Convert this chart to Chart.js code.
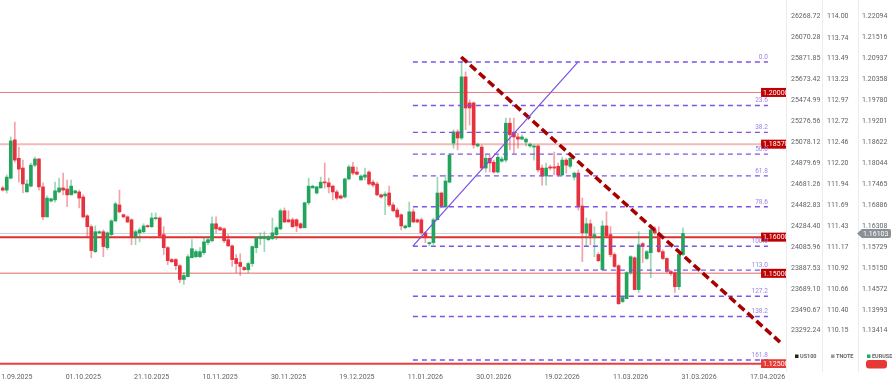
<!DOCTYPE html>
<html>
<head>
<meta charset="utf-8">
<script src="https://cdn.jsdelivr.net/npm/chart.js@4.4.1/dist/chart.umd.min.js"></script>
<style>
  html, body { margin: 0; padding: 0; background: #fff; }
</style>
</head>
<body>
<canvas id="eurusdChart" width="892" height="387" style="display:block;width:892px;height:387px"></canvas>
<script>
// EURUSD daily candles, first candle sits at index -3
const FIRST_INDEX = -3;
const opens = [
  1.1736,1.1730,1.1763,1.1869,1.1818,1.1791,1.1725,1.1741,1.1799,1.1816,
  1.1739,1.1656,1.1700,1.1703,1.1725,1.1736,1.1733,1.1717,1.1722,1.1725,
  1.1711,1.1659,1.1629,1.1560,1.1612,1.1615,1.1571,1.1607,1.1645,1.1689,
  1.1662,1.1656,1.1648,1.1601,1.1612,1.1615,1.1631,1.1629,1.1651,1.1653,
  1.1607,1.1571,1.1538,1.1538,1.1521,1.1483,1.1491,1.1543,1.1546,1.1546,
  1.1557,1.1585,1.1590,1.1637,1.1626,1.1623,1.1593,1.1576,1.1541,1.1530,
  1.1516,1.1510,1.1527,1.1571,1.1596,1.1596,1.1593,1.1596,1.1607,1.1623,
  1.1673,1.1648,1.1648,1.1648,1.1637,1.1626,1.1695,1.1736,1.1722,1.1736,
  1.1752,1.1750,1.1741,1.1725,1.1714,1.1711,1.1761,1.1794,1.1780,1.1758,
  1.1766,1.1780,1.1752,1.1747,1.1717,1.1714,1.1722,1.1689,1.1675,1.1662,
  1.1626,1.1629,1.1670,1.1648,1.1648,1.1612,1.1582,1.1585,1.1648,1.1722,
  1.1684,1.1752,1.1860,1.1891,1.1874,1.2043,1.1971,1.1971,1.1852,1.1849,
  1.1791,1.1818,1.1807,1.1780,1.1810,1.1813,1.1915,1.1888,1.1877,1.1871,
  1.1863,1.1852,1.1849,1.1852,1.1791,1.1769,1.1794,1.1794,1.1796,1.1772,
  1.1813,1.1796,1.1766,1.1777,1.1686,1.1612,1.1637,1.1601,1.1552,1.1510,
  1.1631,1.1607,1.1552,1.1521,1.1422,1.1430,1.1502,1.1543,1.1455,1.1582,
  1.1541,1.1557,1.1620,1.1609,1.1560,1.1541,1.1505,1.1502,1.1463,1.1552
];
const highs = [
  1.1741,1.1772,1.1877,1.1918,1.1849,1.1813,1.1758,1.1805,1.1821,1.1818,
  1.1750,1.1714,1.1708,1.1752,1.1763,1.1777,1.1758,1.1758,1.1730,1.1730,
  1.1717,1.1662,1.1634,1.1631,1.1618,1.1620,1.1615,1.1648,1.1697,1.1730,
  1.1664,1.1659,1.1651,1.1620,1.1626,1.1637,1.1634,1.1667,1.1667,1.1656,
  1.1629,1.1574,1.1541,1.1541,1.1524,1.1502,1.1552,1.1593,1.1565,1.1571,
  1.1598,1.1601,1.1656,1.1656,1.1629,1.1626,1.1607,1.1579,1.1552,1.1554,
  1.1519,1.1530,1.1576,1.1601,1.1612,1.1615,1.1604,1.1653,1.1629,1.1678,
  1.1681,1.1673,1.1653,1.1651,1.1640,1.1697,1.1763,1.1744,1.1741,1.1766,
  1.1805,1.1763,1.1744,1.1730,1.1717,1.1763,1.1799,1.1807,1.1794,1.1772,
  1.1791,1.1783,1.1758,1.1752,1.1719,1.1725,1.1741,1.1695,1.1681,1.1664,
  1.1634,1.1697,1.1678,1.1651,1.1653,1.1615,1.1587,1.1653,1.1766,1.1725,
  1.1772,1.1832,1.1897,1.1897,1.2085,1.2057,1.1979,1.1974,1.1860,1.1855,
  1.1827,1.1827,1.1813,1.1827,1.1821,1.1929,1.1929,1.1929,1.1888,1.1883,
  1.1874,1.1860,1.1855,1.1855,1.1799,1.1805,1.1799,1.1835,1.1805,1.1821,
  1.1818,1.1821,1.1780,1.1786,1.1708,1.1653,1.1648,1.1629,1.1557,1.1645,
  1.1670,1.1629,1.1557,1.1524,1.1436,1.1505,1.1549,1.1546,1.1615,1.1585,
  1.1563,1.1634,1.1629,1.1629,1.1565,1.1543,1.1508,1.1505,1.1565,1.1626
];
const lows = [
  1.1728,1.1722,1.1761,1.1807,1.1752,1.1722,1.1725,1.1739,1.1794,1.1730,
  1.1648,1.1656,1.1697,1.1697,1.1722,1.1717,1.1684,1.1717,1.1722,1.1681,
  1.1653,1.1601,1.1543,1.1557,1.1609,1.1546,1.1565,1.1601,1.1642,1.1667,
  1.1653,1.1640,1.1579,1.1579,1.1587,1.1612,1.1626,1.1626,1.1648,1.1601,
  1.1552,1.1524,1.1530,1.1510,1.1474,1.1469,1.1491,1.1543,1.1543,1.1543,
  1.1552,1.1579,1.1587,1.1612,1.1618,1.1585,1.1574,1.1519,1.1502,1.1494,
  1.1508,1.1502,1.1519,1.1557,1.1579,1.1560,1.1590,1.1593,1.1593,1.1620,
  1.1640,1.1642,1.1626,1.1615,1.1623,1.1626,1.1689,1.1736,1.1719,1.1736,
  1.1736,1.1722,1.1703,1.1703,1.1706,1.1708,1.1758,1.1772,1.1772,1.1758,
  1.1758,1.1744,1.1739,1.1714,1.1708,1.1662,1.1684,1.1670,1.1653,1.1620,
  1.1623,1.1626,1.1640,1.1640,1.1607,1.1585,1.1576,1.1579,1.1648,1.1681,
  1.1681,1.1750,1.1846,1.1841,1.1869,1.1897,1.1910,1.1846,1.1849,1.1786,
  1.1780,1.1780,1.1777,1.1777,1.1807,1.1807,1.1841,1.1832,1.1846,1.1869,
  1.1852,1.1849,1.1813,1.1780,1.1744,1.1744,1.1786,1.1772,1.1769,1.1769,
  1.1777,1.1791,1.1758,1.1675,1.1532,1.1576,1.1579,1.1546,1.1532,1.1510,
  1.1601,1.1546,1.1516,1.1414,1.1419,1.1430,1.1497,1.1455,1.1447,1.1530,
  1.1538,1.1488,1.1607,1.1557,1.1538,1.1502,1.1494,1.1447,1.1455,1.1549
];
const closes = [
  1.1730,1.1766,1.1866,1.1813,1.1788,1.1747,1.1747,1.1799,1.1816,1.1739,
  1.1656,1.1708,1.1706,1.1728,1.1736,1.1730,1.1717,1.1741,1.1728,1.1708,
  1.1656,1.1629,1.1563,1.1615,1.1615,1.1574,1.1612,1.1645,1.1692,1.1670,
  1.1656,1.1642,1.1601,1.1615,1.1620,1.1631,1.1629,1.1653,1.1653,1.1604,
  1.1571,1.1535,1.1532,1.1521,1.1483,1.1494,1.1546,1.1568,1.1560,1.1560,
  1.1587,1.1593,1.1637,1.1623,1.1620,1.1590,1.1576,1.1538,1.1527,1.1519,
  1.1510,1.1527,1.1574,1.1598,1.1601,1.1601,1.1601,1.1612,1.1626,1.1673,
  1.1642,1.1642,1.1629,1.1631,1.1626,1.1695,1.1741,1.1741,1.1739,1.1752,
  1.1750,1.1739,1.1725,1.1708,1.1708,1.1761,1.1794,1.1777,1.1774,1.1769,
  1.1772,1.1747,1.1744,1.1717,1.1711,1.1719,1.1689,1.1673,1.1656,1.1631,
  1.1631,1.1670,1.1642,1.1642,1.1612,1.1601,1.1585,1.1648,1.1722,1.1684,
  1.1755,1.1827,1.1891,1.1874,1.2043,1.1957,1.1957,1.1855,1.1857,1.1791,
  1.1818,1.1805,1.1780,1.1821,1.1816,1.1915,1.1883,1.1877,1.1871,1.1877,
  1.1871,1.1857,1.1852,1.1786,1.1769,1.1791,1.1791,1.1791,1.1772,1.1813,
  1.1799,1.1818,1.1777,1.1684,1.1612,1.1637,1.1604,1.1607,1.1535,1.1631,
  1.1604,1.1552,1.1519,1.1416,1.1433,1.1502,1.1546,1.1455,1.1579,1.1574,
  1.1560,1.1620,1.1612,1.1560,1.1541,1.1505,1.1499,1.1463,1.1552,1.1610
];
const lastPrice = 1.16103;

// x axis (candle index) tick labels
const dateTickIndex = [0, 17, 34, 51, 68, 85, 102, 119, 136, 153, 170, 187];
const dateLabels = ['11.09.2025', '01.10.2025', '21.10.2025', '10.11.2025', '30.11.2025', '19.12.2025',
  '11.01.2026', '30.01.2026', '19.02.2026', '11.03.2026', '31.03.2026', '17.04.2026'];

// right hand price scales
const us100Ticks = ['26268.72', '26070.28', '25871.85', '25673.42', '25474.99', '25276.56', '25078.12', '24879.69',
  '24681.26', '24482.83', '24284.40', '24085.96', '23887.53', '23689.10', '23490.67', '23292.24'];
const tnoteTicks = ['114.00', '113.74', '113.49', '113.23', '112.97', '112.72', '112.46', '112.20',
  '111.94', '111.69', '111.43', '111.17', '110.92', '110.66', '110.40', '110.15'];
const eurusdTicks = ['1.22094', '1.21516', '1.20937', '1.20358', '1.19780', '1.19201', '1.18622', '1.18044',
  '1.17465', '1.16886', '1.16308', '1.15729', '1.15150', '1.14572', '1.13993', '1.13414'];

// horizontal support / resistance levels
const levels = [1.2000, 1.1857, 1.1600, 1.1500, 1.1250];
const levelLabels = ['1.20000', '1.18570', '1.16000', '1.15000', '1.12500'];

// fibonacci retracement
const fibRatios = [0, 23.6, 38.2, 50, 61.8, 78.6, 100, 113, 127.2, 138.2, 161.8];
const fibHigh = 1.2084;
const fibLow = 1.1575;
const fibFrom = 98.9;
const fibTo = 187.1;

// drawn lines
const swingLine = [{ x: 98.9, y: 1.1575 }, { x: 139.9, y: 1.2084 }];
const trendLine = [{ x: 110.9, y: 1.2098 }, { x: 190.1, y: 1.1310 }];
const levelLineEnd = 185.4;

// layout constants
const X_MIN = -3.68, X_MAX = 191.6;
const PLOT_H = 368, TOP_TICK_PX = 16.7, BOTTOM_TICK_PX = 330.7;

const UP = '#22a45d', DOWN = '#e5323e';
const UP_WICK = 'rgba(34,164,93,0.45)', DOWN_WICK = 'rgba(229,50,62,0.45)';
const levelColors = ['#e77b7b', '#f3baba', '#e02f2f', '#ec9a9a', '#e8403c'];
const levelWidths = [1, 2, 2, 1.5, 2];
const FIB_COLOR = '#7c55e6';

Chart.defaults.font.family = "Roboto, 'Noto Sans', sans-serif";
Chart.defaults.font.size = 7;

const fibPrice = r => fibHigh - (fibHigh - fibLow) * r / 100;
const candleX = opens.map((_, k) => FIRST_INDEX + k);
const isUp = closes.map((c, k) => c >= opens[k]);

function valueAxis(labels, weight, width, pad) {
  const vals = labels.map(Number);
  const n = vals.length;
  const perPx = (vals[0] - vals[n - 1]) / (BOTTOM_TICK_PX - TOP_TICK_PX);
  return {
    type: 'linear',
    axis: 'y',
    position: 'right',
    weight: weight,
    min: vals[n - 1] - (PLOT_H - BOTTOM_TICK_PX) * perPx,
    max: vals[0] + TOP_TICK_PX * perPx,
    grid: { display: false, drawTicks: false },
    border: { display: false },
    afterBuildTicks: s => { s.ticks = vals.map(v => ({ value: v })); },
    afterFit: s => { s.width = width; s.paddingTop = 0; s.paddingBottom = 0; },
    ticks: { crossAlign: 'near', padding: pad, color: '#5f6368', callback: (v, i) => labels[i] }
  };
}

const datasets = [];

levels.forEach((lv, k) => {
  datasets.push({
    type: 'line', order: 5, xAxisID: 'x', yAxisID: 'eur',
    data: [{ x: X_MIN, y: lv }, { x: levelLineEnd, y: lv }],
    borderColor: levelColors[k], borderWidth: levelWidths[k], pointRadius: 0
  });
});

datasets.push({
  type: 'line', order: 4, xAxisID: 'x', yAxisID: 'eur',
  data: [{ x: X_MIN, y: lastPrice }, { x: X_MAX, y: lastPrice }],
  borderColor: '#cfcfcf', borderWidth: 1, pointRadius: 0
});

datasets.push({
  type: 'bar', order: 3, xAxisID: 'x', yAxisID: 'eur', grouped: false,
  data: candleX.map((x, k) => ({ x: x, y: [lows[k], highs[k]] })),
  backgroundColor: isUp.map(u => u ? UP_WICK : DOWN_WICK),
  barThickness: 1, minBarLength: 1, borderWidth: 0
});

datasets.push({
  type: 'bar', order: 2, xAxisID: 'x', yAxisID: 'eur', grouped: false,
  data: candleX.map((x, k) => ({ x: x, y: [opens[k], closes[k]] })),
  backgroundColor: isUp.map(u => u ? UP : DOWN),
  barThickness: 3, minBarLength: 1, borderWidth: 0
});

fibRatios.forEach(r => {
  datasets.push({
    type: 'line', order: 1, xAxisID: 'x', yAxisID: 'eur',
    data: [{ x: fibFrom, y: fibPrice(r) }, { x: fibTo, y: fibPrice(r) }],
    borderColor: FIB_COLOR, borderWidth: 1.4, borderDash: [5, 4], pointRadius: 0
  });
});

datasets.push({
  type: 'line', order: 0, xAxisID: 'x', yAxisID: 'eur',
  data: swingLine, borderColor: '#7a4fe2', borderWidth: 1.2, pointRadius: 0
});

datasets.push({
  type: 'line', order: 0, xAxisID: 'x', yAxisID: 'eur',
  data: trendLine, borderColor: '#a80000', borderWidth: 3.6, borderDash: [8, 4],
  borderCapStyle: 'butt', pointRadius: 0
});

// labels, price tags, legend and column separators
const overlayPlugin = {
  id: 'overlay',
  afterDraw(chart) {
    const { ctx, chartArea: area, scales } = chart;
    const { x, eur, us100, tnote } = scales;
    ctx.save();

    ctx.strokeStyle = '#ececec';
    ctx.lineWidth = 1;
    [area.right, us100.right, tnote.right].forEach(px => {
      const lx = Math.round(px) + 0.5;
      ctx.beginPath();
      ctx.moveTo(lx, 0);
      ctx.lineTo(lx, area.bottom + 4);
      ctx.stroke();
    });

    // level tags and fib labels, clipped to the plot
    ctx.save();
    ctx.beginPath();
    ctx.rect(area.left, area.top, area.right - area.left, area.bottom - area.top);
    ctx.clip();
    const tagX = x.getPixelForValue(levelLineEnd);
    ctx.font = '7px Roboto';
    ctx.textBaseline = 'middle';
    ctx.textAlign = 'left';
    levels.forEach((lv, k) => {
      const py = eur.getPixelForValue(lv);
      ctx.fillStyle = k === levels.length - 1 ? '#e53935' : '#c00000';
      ctx.fillRect(tagX, py - 4.5, 32, 9);
      ctx.fillStyle = '#fff';
      ctx.fillText(levelLabels[k], tagX + 2, py + 0.5);
    });
    ctx.font = '6.5px Roboto';
    ctx.textAlign = 'right';
    ctx.textBaseline = 'bottom';
    ctx.fillStyle = '#9a84e4';
    const fx = x.getPixelForValue(fibTo);
    fibRatios.forEach(r => {
      ctx.fillText(r.toFixed(1), fx, eur.getPixelForValue(fibPrice(r)) - 1.5);
    });
    ctx.restore();

    // current price tag
    const py = eur.getPixelForValue(lastPrice);
    ctx.fillStyle = '#8b9095';
    ctx.beginPath();
    ctx.moveTo(eur.left - 1, py);
    ctx.lineTo(eur.left + 4, py - 4.5);
    ctx.lineTo(eur.right - 3, py - 4.5);
    ctx.quadraticCurveTo(eur.right - 1, py - 4.5, eur.right - 1, py - 2.5);
    ctx.lineTo(eur.right - 1, py + 2.5);
    ctx.quadraticCurveTo(eur.right - 1, py + 4.5, eur.right - 3, py + 4.5);
    ctx.lineTo(eur.left + 4, py + 4.5);
    ctx.closePath();
    ctx.fill();
    ctx.fillStyle = '#fff';
    ctx.font = '7px Roboto';
    ctx.textAlign = 'left';
    ctx.textBaseline = 'middle';
    ctx.fillText(lastPrice.toFixed(5), eur.left + 5, py + 0.5);

    // mini legend under the price columns
    const legend = [['US100', '#222', us100], ['TNOTE', '#9a9a9a', tnote], ['EURUSD', '#1fae64', eur]];
    ctx.font = 'bold 5.5px Roboto';
    legend.forEach(([name, color, sc]) => {
      const lx = sc.left + 9;
      ctx.fillStyle = color;
      ctx.fillRect(lx, 354.5, 3.5, 3.5);
      ctx.fillStyle = '#666';
      ctx.fillText(name, lx + 5, 356.5);
    });
    ctx.fillStyle = '#e53935';
    ctx.beginPath();
    ctx.roundRect(eur.left + 8, 360, 21, 8.5, 3);
    ctx.fill();

    ctx.restore();
  }
};

new Chart(document.getElementById('eurusdChart'), {
  type: 'bar',
  data: { datasets: datasets },
  options: {
    responsive: false,
    animation: false,
    layout: { padding: 0 },
    plugins: { legend: { display: false }, tooltip: { enabled: false } },
    scales: {
      x: {
        type: 'linear',
        min: X_MIN,
        max: X_MAX,
        offset: false,
        grid: { display: false, drawTicks: false },
        border: { display: false },
        afterBuildTicks: s => { s.ticks = dateTickIndex.map(v => ({ value: v })); },
        afterFit: s => { s.height = 19; s.paddingLeft = 0; s.paddingRight = 0; },
        ticks: { autoSkip: false, maxRotation: 0, padding: 5, color: '#5f6368', callback: (v, i) => dateLabels[i] }
      },
      us100: valueAxis(us100Ticks, 0, 36, 5),
      tnote: valueAxis(tnoteTicks, 1, 36, 5),
      eur: valueAxis(eurusdTicks, 2, 34, 4)
    }
  },
  plugins: [overlayPlugin]
});
</script>
</body>
</html>
